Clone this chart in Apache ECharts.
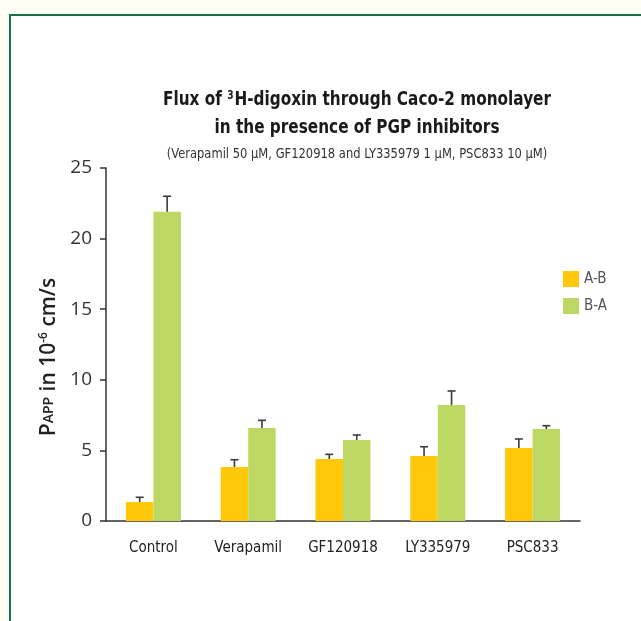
<!DOCTYPE html>
<html>
<head>
<meta charset="utf-8">
<script src="https://cdn.jsdelivr.net/npm/echarts@6/dist/echarts.min.js"></script>
<style>
  html, body { margin: 0; padding: 0; background: #fffef4; }
  #chart { width: 641px; height: 621px; }
</style>
</head>
<body>
<div id="chart"></div>
<script>
// Apparent permeability of 3H-digoxin, by inhibitor
const categories = ['Control', 'Verapamil', 'GF120918', 'LY335979', 'PSC833'];
const seriesNames = ['A-B', 'B-A'];
const abValues = [1.35, 3.82, 4.39, 4.60, 5.17];
const baValues = [21.9, 6.59, 5.74, 8.22, 6.52];
// upper end of each error bar
const abErrTop = [1.68, 4.34, 4.72, 5.26, 5.81];
const baErrTop = [23.0, 7.13, 6.09, 9.21, 6.75];
const yTicks = [0, 5, 10, 15, 20, 25];

const titleLines = ['Flux of {sup|3}H-digoxin through Caco-2 monolayer', 'in the presence of PGP inhibitors'];
const subtitle = '(Verapamil 50 µM, GF120918 and LY335979 1 µM, PSC833 10 µM)';

const COND = '"DejaVu Sans Condensed", "Liberation Sans Narrow", sans-serif';
const SANS = '"Open Sans", "Noto Sans", sans-serif';
const BAR_FRAC = 0.29;
const colors = ['#ffc80b', '#bdd862'];

function errorSeries(name, tops, values, side) {
  return {
    type: 'custom',
    name: name + ' error',
    silent: true,
    z: 5,
    data: categories.map((c, i) => [i, values[i], tops[i]]),
    renderItem: function (params, api) {
      const band = api.size([1, 0])[0];
      const off = side * band * BAR_FRAC / 2;
      const base = api.coord([api.value(0), api.value(1)]);
      const top = api.coord([api.value(0), api.value(2)]);
      const x = base[0] + off;
      const cap = 4;
      const style = { stroke: '#3a3a3a', lineWidth: 1.6 };
      return {
        type: 'group',
        children: [
          { type: 'line', shape: { x1: x, y1: base[1], x2: x, y2: top[1] }, style: style },
          { type: 'line', shape: { x1: x - cap, y1: top[1], x2: x + cap, y2: top[1] }, style: style }
        ]
      };
    }
  };
}

const titleRich = {
  sup: { fontFamily: COND, fontWeight: 'bold', fontSize: 12, color: '#1a1a1a', verticalAlign: 'top', padding: [0, 1, 8, 0] }
};

const chart = echarts.init(document.getElementById('chart'));
chart.setOption({
  animation: false,
  backgroundColor: '#fffef4',
  graphic: [
    {
      type: 'rect',
      shape: { x: 10, y: 15, width: 700, height: 700 },
      style: { fill: '#ffffff', stroke: '#177049', lineWidth: 2 },
      z: -10
    },
    {
      type: 'text', x: 357, y: 100, scaleX: 0.85,
      style: {
        text: titleLines[0], align: 'center', verticalAlign: 'middle',
        fontFamily: COND, fontWeight: 'bold', fontSize: 20, fill: '#1a1a1a', rich: titleRich
      }
    },
    {
      type: 'text', x: 357, y: 128, scaleX: 0.85,
      style: {
        text: titleLines[1], align: 'center', verticalAlign: 'middle',
        fontFamily: COND, fontWeight: 'bold', fontSize: 20, fill: '#1a1a1a'
      }
    },
    {
      type: 'text', x: 357, y: 154, scaleX: 0.915,
      style: {
        text: subtitle, align: 'center', verticalAlign: 'middle',
        fontFamily: COND, fontSize: 14, fill: '#333333'
      }
    }
  ],
  legend: {
    orient: 'vertical',
    left: 563,
    top: 271,
    padding: 0,
    itemWidth: 16,
    itemHeight: 16,
    itemGap: 11,
    icon: 'rect',
    data: seriesNames,
    textStyle: { fontFamily: COND, fontSize: 15, color: '#555555' }
  },
  grid: { left: 106, right: 61, top: 168, bottom: 100, containLabel: false },
  xAxis: {
    type: 'category',
    data: categories,
    axisLine: { lineStyle: { color: '#333333', width: 1.5 } },
    axisTick: { show: false },
    axisLabel: { margin: 20, fontFamily: COND, fontSize: 15, color: '#222222' }
  },
  yAxis: {
    type: 'value',
    min: yTicks[0],
    max: yTicks[yTicks.length - 1],
    interval: 5,
    splitLine: { show: false },
    axisLine: { show: true, lineStyle: { color: '#333333', width: 1.5 } },
    axisTick: { show: true, length: 6, lineStyle: { color: '#333333', width: 1.5 } },
    axisLabel: { margin: 14, fontFamily: SANS, fontSize: 19, color: '#333333' },
    name: '{big|P}{small|APP}{big| in 10}{sup|-6}{big| cm/s}',
    nameLocation: 'middle',
    nameGap: 36,
    nameRotate: 90,
    nameTextStyle: {
      padding: [0, 25, 0, 0],
      rich: {
        big: { fontFamily: SANS, fontWeight: 600, fontSize: 21, color: '#222222' },
        small: { fontFamily: SANS, fontWeight: 600, fontSize: 14, color: '#222222' },
        sup: { fontFamily: SANS, fontWeight: 600, fontSize: 12, color: '#222222', verticalAlign: 'top', padding: [0, 0, 10, 0] }
      }
    }
  },
  series: [
    { type: 'bar', name: seriesNames[0], data: abValues, barWidth: (BAR_FRAC * 100) + '%', barGap: '0%', itemStyle: { color: colors[0] } },
    { type: 'bar', name: seriesNames[1], data: baValues, barWidth: (BAR_FRAC * 100) + '%', barGap: '0%', itemStyle: { color: colors[1] } },
    errorSeries(seriesNames[0], abErrTop, abValues, -1),
    errorSeries(seriesNames[1], baErrTop, baValues, 1)
  ]
});
</script>
</body>
</html>
